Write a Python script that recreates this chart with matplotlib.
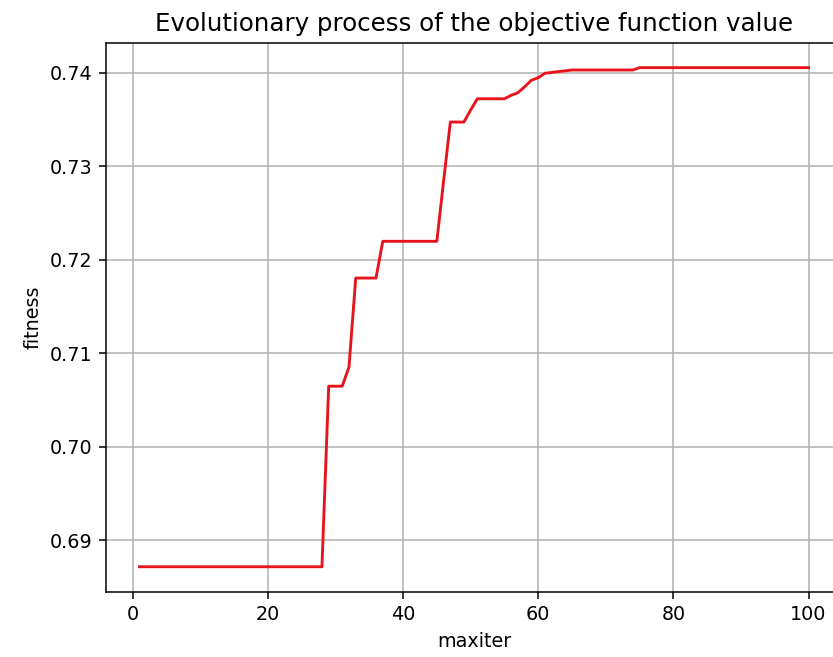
import matplotlib
matplotlib.use("Agg")
import matplotlib.pyplot as plt

iterations = list(range(1, 101))
fitness = (
    [0.68714] * 28
    + [0.70646, 0.70646, 0.70646]          # 29-31
    + [0.7085]                             # 32
    + [0.71803, 0.71803, 0.71803, 0.71803] # 33-36
    + [0.72196, 0.72196, 0.72196, 0.72196, 0.72196, 0.72196, 0.72196, 0.72196, 0.72196]  # 37-45
    + [0.7284]                             # 46
    + [0.73472, 0.73472, 0.73472]          # 47-49
    + [0.7360]                             # 50
    + [0.73721, 0.73721, 0.73721, 0.73721, 0.73721]  # 51-55
    + [0.73758, 0.73786, 0.7385, 0.7392, 0.73946]    # 56-60
    + [0.73994, 0.74003, 0.74012, 0.74020]           # 61-64
    + [0.74029] * 10                                  # 65-74
    + [0.74054] * 26                                  # 75-100
)

title = "Evolutionary process of the objective function value"
xlabel = "maxiter"
ylabel = "fitness"

DPI = 138
fig = plt.figure(figsize=(833 / DPI, 657 / DPI), dpi=DPI)
W, H = 833, 657
left, right, top, bottom = 106, 842, 42.7, 591.7
ax = fig.add_axes([left / W, (H - bottom) / H, (right - left) / W, (bottom - top) / H])
ax.plot(iterations, fitness, color="#e8141c", linewidth=1.5)
ax.set_title(title, fontsize=12.8)
ax.set_xlabel(xlabel)
ax.set_ylabel(ylabel)
ax.grid(True)
fig.savefig("out.png", dpi=DPI)
